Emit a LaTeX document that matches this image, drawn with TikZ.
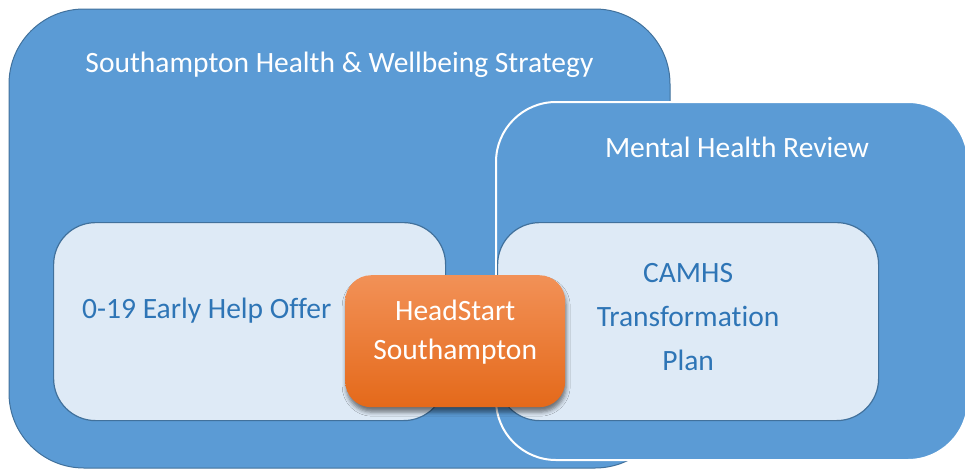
\documentclass[tikz,border=0pt]{standalone}
\usepackage{fontspec}
\setmainfont{Carlito}[Ligatures=NoCommon]
\usepackage{xcolor}
\definecolor{area_blue}{HTML}{5B9BD5}
\definecolor{area_line}{HTML}{41719C}
\definecolor{pale_blue}{HTML}{DEEAF6}
\definecolor{txt_blue}{HTML}{2E75B6}
\definecolor{org_top}{HTML}{F29157}
\definecolor{org_bot}{HTML}{E4691A}
\usepackage{tikz}
\usetikzlibrary{positioning}
\usetikzlibrary{shadows.blur}
\tikzstyle{area} = [rectangle, rounded corners=75pt, minimum width=661pt, minimum height=459pt, draw=area_line, fill=area_blue, line width=1pt, inner sep=0pt, outer sep=0pt]
\tikzstyle{review_area} = [rectangle, rounded corners=60pt, minimum width=472pt, minimum height=358pt, draw=white, fill=area_blue, line width=2pt, inner sep=0pt, outer sep=0pt]
\tikzstyle{offer} = [rectangle, rounded corners=42pt, minimum height=198pt, draw=area_line, fill=pale_blue, line width=1.2pt, text=txt_blue, align=center, font=\fontsize{29.5}{44}\selectfont]
\tikzstyle{head} = [rectangle, rounded corners=26pt, minimum width=220pt, minimum height=132pt, top color=org_top, bottom color=org_bot, text=white, align=center, font=\fontsize{29.5}{39}\selectfont, blur shadow={shadow xshift=1pt, shadow yshift=-5pt, shadow blur radius=4pt, shadow opacity=50}]
\tikzstyle{title} = [text=white, font=\fontsize{29.5}{35}\selectfont, inner sep=0pt]
\tikzstyle{label_txt} = [text=txt_blue, font=\fontsize{29.5}{35}\selectfont, inner sep=0pt]

\begin{document}
\begin{tikzpicture}[x=1pt,y=-1pt]
        \useasboundingbox (0,0) rectangle (965,471);
        \node (hw)[area, anchor=north west] at (9,9) {};
        \node (hwt)[title, below=43pt of hw.north]{Southampton Health \& Wellbeing Strategy};
        \node (mh)[review_area, anchor=north west] at (496,102) {};
        \node (mht)[title, below=35pt of mh.north, xshift=5pt]{Mental Health Review};
        \node (eh)[offer, minimum width=392pt, anchor=north west] at (53,222) {};
        \node (eht)[label_txt, right=29pt of eh.west, yshift=11pt]{0-19 Early Help Offer};
        \node (cp)[offer, minimum width=381pt, text depth=9pt, anchor=north west] at (497,222) {CAMHS\\Transformation\\Plan};
        \node (hs)[head, text depth=23pt, anchor=north west] at (345,275) {HeadStart\\Southampton};
    \end{tikzpicture}
\end{document}
